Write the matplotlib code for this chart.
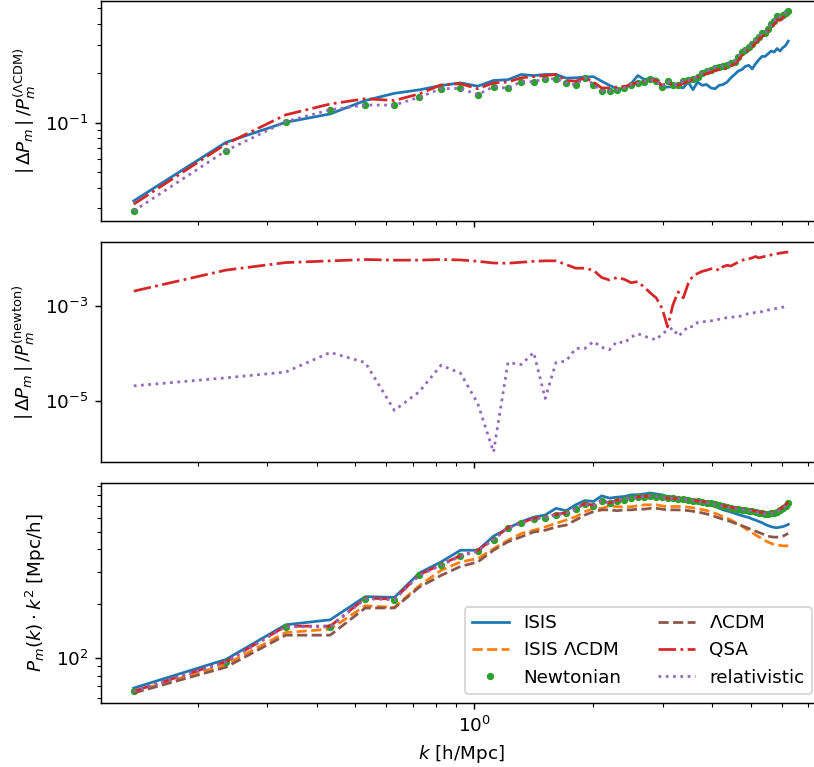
import numpy as np
import matplotlib
matplotlib.use('Agg')
import matplotlib.pyplot as plt
from matplotlib.ticker import FixedLocator, NullLocator

# wavenumbers [h/Mpc]
k = [0.138, 0.236, 0.334, 0.433, 0.531, 0.629, 0.727, 0.825, 0.924, 1.022,
     1.120, 1.218, 1.316, 1.415, 1.513, 1.611, 1.709, 1.807, 1.906, 2.004,
     2.102, 2.200, 2.298, 2.397, 2.495, 2.593, 2.691, 2.789, 2.888, 2.986,
     3.084, 3.182, 3.280, 3.379, 3.477, 3.575, 3.673, 3.771, 3.870, 3.968,
     4.066, 4.164, 4.262, 4.361, 4.459, 4.557, 4.655, 4.753, 4.852, 4.950,
     5.048, 5.146, 5.244, 5.343, 5.441, 5.539, 5.637, 5.735, 5.834, 5.932,
     6.030, 6.128, 6.226]

# P(k) k^2 [Mpc/h]
pk_isis = [68.2, 98.3, 152.9, 163, 219, 217, 296, 341, 396, 396,
           474, 524, 570, 604, 621, 676, 656, 707, 747, 738,
           793, 770, 780, 786, 803, 804, 812, 822, 812, 803,
           786, 780, 770, 764, 760, 747, 737, 728, 716, 703,
           692, 677, 663, 654, 645, 635, 624, 616, 608, 601,
           590, 582, 572, 563, 551, 542, 535, 530, 528, 532,
           535, 542, 551]
pk_isis_lcdm = [65.0, 92.2, 138.5, 144.7, 195, 191, 252, 306, 341, 356,
                404, 450, 490, 511, 533, 558, 582, 607, 648, 676,
                676, 698, 690, 690, 690, 698, 707, 707, 707, 698,
                690, 692, 692, 689, 686, 680, 674, 666, 657, 645,
                635, 621, 608, 596, 582, 568, 555, 539, 523, 508,
                495, 482, 470, 458, 448, 439, 432, 426, 423, 421,
                419, 419, 419]
pk_newton = [65.4, 95, 149, 149, 212.7, 210.8, 287, 327, 366, 392,
             454, 524, 558, 590, 600, 621, 634, 669, 715, 698,
             747, 721, 747, 755, 770, 780, 786, 793, 786, 780,
             770, 767, 764, 760, 754, 747, 740, 734, 728, 722,
             712, 703, 695, 686, 680, 674, 668, 666, 663, 657,
             651, 645, 640, 635, 632, 632, 635, 640, 648, 663,
             677, 698, 722]
pk_lcdm = [64.0, 89, 133.9, 134, 189.5, 189.5, 247, 287, 322, 341,
           396, 441, 470, 500, 511, 533, 546, 582, 621, 648,
           663, 663, 656, 663, 663, 669, 669, 676, 676, 669,
           663, 663, 663, 660, 657, 651, 645, 638, 629, 619,
           608, 598, 587, 580, 570, 560, 551, 542, 532, 523,
           514, 505, 497, 489, 480, 474, 470, 468, 468, 470,
           474, 482, 491]

# |dP| / P(LCDM)
r_isis = [0.0332, 0.0757, 0.1004, 0.113, 0.1365, 0.151, 0.1586, 0.1686, 0.175, 0.167,
          0.181, 0.183, 0.197, 0.194, 0.197, 0.197, 0.187, 0.188, 0.190, 0.191,
          0.179, 0.169, 0.161, 0.161, 0.173, 0.194, 0.184, 0.185, 0.185, 0.165,
          0.165, 0.166, 0.166, 0.163, 0.177, 0.159, 0.177, 0.169, 0.171, 0.163,
          0.161, 0.169, 0.171, 0.177, 0.188, 0.197, 0.207, 0.211, 0.221, 0.224,
          0.213, 0.229, 0.242, 0.254, 0.254, 0.264, 0.274, 0.270, 0.284, 0.274,
          0.287, 0.296, 0.315]
r_newton = [0.0288, 0.0673, 0.1014, 0.1197, 0.128, 0.128, 0.143, 0.161, 0.162, 0.148,
            0.166, 0.162, 0.178, 0.178, 0.185, 0.185, 0.175, 0.170, 0.188, 0.171,
            0.156, 0.157, 0.159, 0.163, 0.171, 0.174, 0.178, 0.184, 0.179, 0.166,
            0.179, 0.171, 0.170, 0.179, 0.181, 0.185, 0.191, 0.201, 0.207, 0.211,
            0.217, 0.219, 0.221, 0.224, 0.231, 0.234, 0.252, 0.270, 0.279, 0.290,
            0.304, 0.318, 0.333, 0.353, 0.353, 0.376, 0.399, 0.418, 0.447, 0.443,
            0.453, 0.469, 0.480]
r_qsa = [0.0317, 0.074, 0.1115, 0.130, 0.140, 0.1365, 0.150, 0.170, 0.173, 0.161,
         0.175, 0.177, 0.188, 0.191, 0.194, 0.197, 0.181, 0.179, 0.188, 0.177,
         0.163, 0.163, 0.165, 0.166, 0.171, 0.177, 0.179, 0.183, 0.181, 0.169,
         0.174, 0.172, 0.169, 0.174, 0.179, 0.183, 0.190, 0.194, 0.199, 0.203,
         0.209, 0.211, 0.214, 0.214, 0.222, 0.229, 0.240, 0.258, 0.270, 0.277,
         0.290, 0.307, 0.322, 0.337, 0.342, 0.364, 0.381, 0.399, 0.426, 0.422,
         0.438, 0.453, 0.469]

# |dP| / P(newton)
d_qsa = [2.07e-3, 5.74e-3, 8.27e-3, 8.97e-3, 9.6e-3, 9.3e-3, 9.3e-3, 9.6e-3, 9.4e-3, 8.8e-3,
         8.1e-3, 8.0e-3, 8.4e-3, 8.8e-3, 9.0e-3, 9.0e-3, 7.5e-3, 6.3e-3, 6.3e-3, 5.7e-3,
         4.0e-3, 3.56e-3, 4.0e-3, 3.68e-3, 3.12e-3, 3.28e-3, 2.52e-3, 1.9e-3, 1.49e-3, 9.1e-4,
         3.66e-4, 1.07e-3, 2.0e-3, 1.49e-3, 2.97e-3, 4.35e-3, 4.87e-3, 5.4e-3, 5.7e-3, 6.1e-3,
         6.3e-3, 5.6e-3, 6.8e-3, 7.25e-3, 7.0e-3, 7.7e-3, 8.5e-3, 9.1e-3, 9.9e-3, 9.95e-3,
         1.04e-2, 1.11e-2, 1.04e-2, 1.08e-2, 1.12e-2, 1.15e-2, 1.2e-2, 1.23e-2, 1.27e-2, 1.31e-2,
         1.33e-2, 1.36e-2, 1.38e-2]
d_rel = [2.1e-5, 3.1e-5, 4.1e-5, 1.06e-4, 6.5e-5, 6.4e-6, 1.58e-5, 5.7e-5, 3.9e-5, 8.9e-6,
         8.5e-7, 6.5e-5, 5.9e-5, 1.06e-4, 1.14e-5, 6.5e-5, 7.0e-5, 1.29e-4, 1.29e-4, 1.8e-4,
         1.36e-4, 1.21e-4, 1.8e-4, 1.68e-4, 2.23e-4, 2.63e-4, 2.34e-4, 2.12e-4, 1.95e-4, 2.63e-4,
         3.1e-4, 3.47e-4, 2.34e-4, 2.85e-4, 3.8e-4, 3.66e-4, 4.53e-4, 4.6e-4, 4.84e-4, 4.9e-4,
         5.08e-4, 5.3e-4, 5.5e-4, 5.75e-4, 5.8e-4, 6.0e-4, 6.0e-4, 6.3e-4, 6.7e-4, 7.0e-4,
         7.1e-4, 7.4e-4, 7.4e-4, 7.7e-4, 8.0e-4, 8.3e-4, 8.5e-4, 8.8e-4, 9.0e-4, 9.1e-4,
         9.5e-4, 9.9e-4, 1.0e-3]

k = np.array(k)
pk_newton = np.array(pk_newton)
pk_qsa = pk_newton * (1 + np.array(d_qsa))
pk_rel = pk_newton * (1 + np.array(d_rel))
r_rel = (1 + np.array(r_newton)) * (1 + np.array(d_rel)) - 1

DPI = 132
fig, (ax1, ax2, ax3) = plt.subplots(3, 1, sharex=True, figsize=(814/DPI, 767/DPI), dpi=DPI)
fig.subplots_adjust(left=0.1241, right=1.0086, top=0.9987, bottom=0.0834, hspace=0.0955)

# top: relative to LCDM
ax1.plot(k, r_isis, color='C0', ls='-')
ax1.plot(k, r_newton, color='C2', marker='.', ls='')
ax1.plot(k, r_qsa, color='C3', ls='-.')
ax1.plot(k, r_rel, color='C4', ls=':')
ax1.set_xscale('log')
ax1.set_yscale('log')
ax1.set_ylabel(r'$|\,\mathit{\Delta} P_m\,|\,/P_m^{(\Lambda\mathrm{CDM})}$')

# middle: relative to newtonian
ax2.plot(k, d_qsa, color='C3', ls='-.')
ax2.plot(k, d_rel, color='C4', ls=':')
ax2.set_yscale('log')
ax2.yaxis.set_major_locator(FixedLocator([1e-5, 1e-3]))
ax2.yaxis.set_minor_locator(NullLocator())
ax2.set_ylabel(r'$|\,\mathit{\Delta} P_m\,|\,/P_m^{(\mathrm{newton})}$')

# bottom: power spectra
ax3.plot(k, pk_isis, color='C0', ls='-', label='ISIS')
ax3.plot(k, pk_isis_lcdm, color='C1', ls='--', label=r'ISIS $\Lambda$CDM')
ax3.plot(k, pk_newton, color='C2', marker='.', ls='', label='Newtonian')
ax3.plot(k, pk_lcdm, color='C5', ls='--', label=r'$\Lambda$CDM')
ax3.plot(k, pk_qsa, color='C3', ls='-.', label='QSA')
ax3.plot(k, pk_rel, color='C4', ls=':', label='relativistic')
ax3.set_yscale('log')
ax3.set_ylabel(r'$P_m(k)\cdot k^2$ [Mpc/h]')
ax3.set_xlabel(r'$k$ [h/Mpc]')
ax3.legend(loc='lower right', ncol=2)

fig.savefig('out.png', dpi=DPI)
